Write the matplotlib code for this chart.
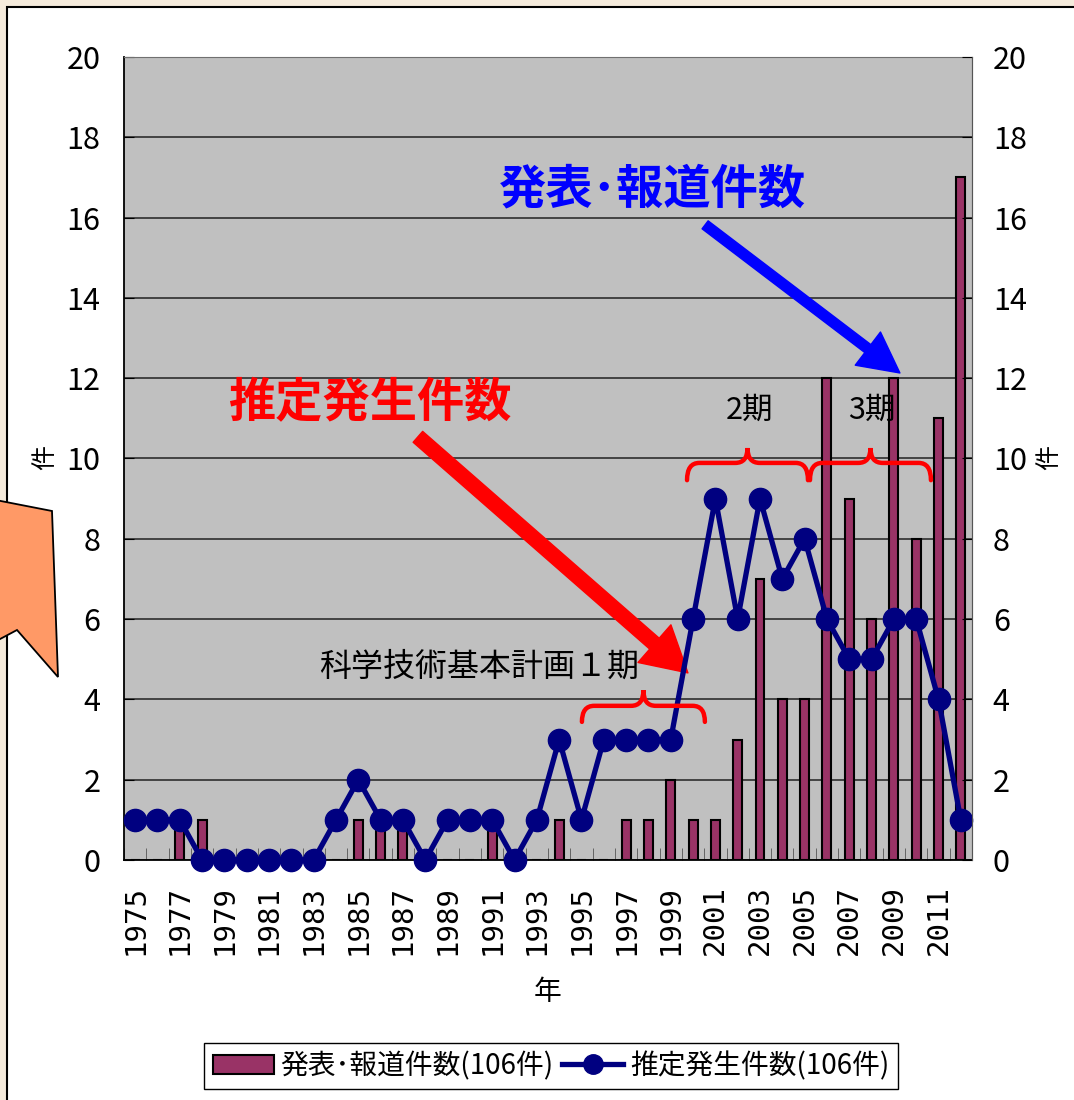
import numpy as np
import matplotlib
matplotlib.use('Agg')
import matplotlib.pyplot as plt
from matplotlib.patches import Polygon, Rectangle, PathPatch
from matplotlib.path import Path
from matplotlib.lines import Line2D

plt.rcParams['font.family'] = ['Noto Sans CJK JP', 'DejaVu Sans']

years = list(range(1975, 2013))
reported = [0, 0, 1, 1, 0, 0, 0, 0, 0, 0, 1, 1, 1, 0, 0, 0, 1, 0, 0, 1, 0, 0,
            1, 1, 2, 1, 1, 3, 7, 4, 4, 12, 9, 6, 12, 8, 11, 17]
estimated = [1, 1, 1, 0, 0, 0, 0, 0, 0, 1, 2, 1, 1, 0, 1, 1, 1, 0, 1, 3, 1, 3,
             3, 3, 3, 6, 9, 6, 9, 7, 8, 6, 5, 5, 6, 6, 4, 1]
yticks = [0, 2, 4, 6, 8, 10, 12, 14, 16, 18, 20]
label_reported = '発表･報道件数(106件)'
label_estimated = '推定発生件数(106件)'

W, H = 1074, 1100
fig = plt.figure(figsize=(W / 100, H / 100), dpi=100)
fig.patch.set_facecolor('#f5ebdc')

# white slide panel
fig.patches.append(Rectangle((7 / W, -0.1), 1.2, 1 - 7 / H + 0.1, transform=fig.transFigure,
                             facecolor='white', edgecolor='black', lw=1.5, zorder=-10))

ax = fig.add_axes([124 / W, 1 - 860 / H, (972 - 124) / W, (860 - 57) / H])
ax.set_facecolor('#c0c0c0')
x = np.arange(len(years))

ax.bar(x, reported, width=0.4, color='#993366', edgecolor='black', lw=1.5, zorder=2)
ax.plot(x, estimated, color='#000080', lw=3.8, marker='o', ms=16, zorder=4, clip_on=False)

ax.set_xlim(-0.5, len(years) - 0.5)
ax.set_ylim(0, 20)
ax.set_yticks(yticks)
ax.yaxis.grid(True, color='#222222', lw=1.1)
ax.set_axisbelow(True)

ax.set_xticks(x[::2])
ax.set_xticklabels([str(y) for y in years[::2]], rotation=90, fontsize=21,
                   va='top', ha='center', family='DejaVu Sans Mono')
ax.set_xticks(np.arange(len(years) + 1) - 0.5, minor=True)
ax.tick_params(axis='x', which='major', length=0, pad=18)
ax.tick_params(axis='x', which='minor', direction='in', length=9, color='#555555')
ax.tick_params(axis='y', direction='in', length=7, labelsize=22, pad=17)
for s in ['top', 'right']:
    ax.spines[s].set_color('#707070')
for s in ['left', 'bottom']:
    ax.spines[s].set_color('black')
    ax.spines[s].set_linewidth(1.3)

ax2 = ax.twinx()
ax2.set_ylim(0, 20)
ax2.set_yticks(yticks)
ax2.tick_params(axis='y', direction='in', length=7, labelsize=22, pad=15)
ax2.spines['right'].set_color('#555555')
ax2.spines['top'].set_visible(False)
ax2.spines['left'].set_visible(False)
ax2.spines['bottom'].set_visible(False)

# axis labels
fig.text(45 / W, 1 - 458 / H, '件', rotation=90, fontsize=18, ha='center', va='center')
fig.text(1049 / W, 1 - 458 / H, '件', rotation=90, fontsize=18, ha='center', va='center')
fig.text(548 / W, 1 - 992 / H, '年', fontsize=20, ha='center', va='center')

# callout texts and arrows
ax.text(23.2, 16.69, '発表･報道件数', color='#0000ff', fontsize=34, fontweight='bold',
        ha='center', va='center', zorder=6)
ax.annotate('', xy=(34.27, 12.13), xytext=(25.54, 15.82),
            arrowprops=dict(arrowstyle='simple,head_length=1.45,head_width=1.5,tail_width=0.36',
                            color='#0000ff', mutation_scale=20, shrinkA=0, shrinkB=0), zorder=3)
ax.text(10.52, 11.41, '推定発生件数', color='#ff0000', fontsize=34, fontweight='bold',
        ha='center', va='center', zorder=6)
ax.annotate('', xy=(24.77, 4.66), xytext=(12.67, 10.54),
            arrowprops=dict(arrowstyle='simple,head_length=1.6,head_width=1.8,tail_width=0.52',
                            color='#ff0000', mutation_scale=20, shrinkA=0, shrinkB=0), zorder=3)

ax.text(15.41, 4.81, '科学技術基本計画１期', fontsize=23, ha='center', va='center', zorder=6)
ax.text(27.55, 11.21, '2期', fontsize=22, ha='center', va='center', zorder=6)
ax.text(33.02, 11.21, '3期', fontsize=22, ha='center', va='center', zorder=6)


def brace(ax, x0, x1, y_end, y_flat, y_peak, r=0.55):
    xm = (x0 + x1) / 2
    verts = [(x0, y_end), (x0, y_flat), (x0 + r, y_flat), (xm - r, y_flat),
             (xm, y_flat), (xm, y_peak), (xm, y_flat), (xm + r, y_flat),
             (x1 - r, y_flat), (x1, y_flat), (x1, y_end)]
    codes = [Path.MOVETO, Path.CURVE3, Path.CURVE3, Path.LINETO,
             Path.CURVE3, Path.CURVE3, Path.CURVE3, Path.CURVE3,
             Path.LINETO, Path.CURVE3, Path.CURVE3]
    ax.add_patch(PathPatch(Path(verts, codes), fill=False, edgecolor='#ff0000',
                           lw=3.2, capstyle='round', zorder=5))


brace(ax, 20.02, 25.53, 3.44, 3.84, 4.23)
brace(ax, 24.73, 30.15, 9.46, 9.89, 10.26)
brace(ax, 30.24, 35.66, 9.46, 9.89, 10.26)

# orange callout shape at the left edge
pts = [(-30, 495), (52, 511), (58, 677), (17, 630), (-30, 655)]
fig.patches.append(Polygon([(px / W, 1 - py / H) for px, py in pts], closed=True,
                           transform=fig.transFigure, facecolor='#ff9966',
                           edgecolor='black', lw=1.3, zorder=1))

# legend
handles = [Rectangle((0, 0), 1, 1, facecolor='#993366', edgecolor='black', lw=1.5),
           Line2D([], [], color='#000080', lw=3.8, marker='o', ms=14)]
leg = fig.legend(handles, [label_reported, label_estimated], loc='center',
                 bbox_to_anchor=(551 / W, 1 - 1066 / H), ncol=2, fontsize=20,
                 frameon=True, fancybox=False, edgecolor='black', framealpha=1,
                 handlelength=2.2, handletextpad=0.25, columnspacing=0.3,
                 borderpad=0.3, borderaxespad=0)
leg.get_frame().set_linewidth(1.0)

fig.savefig('out.png', dpi=100, facecolor=fig.get_facecolor())
